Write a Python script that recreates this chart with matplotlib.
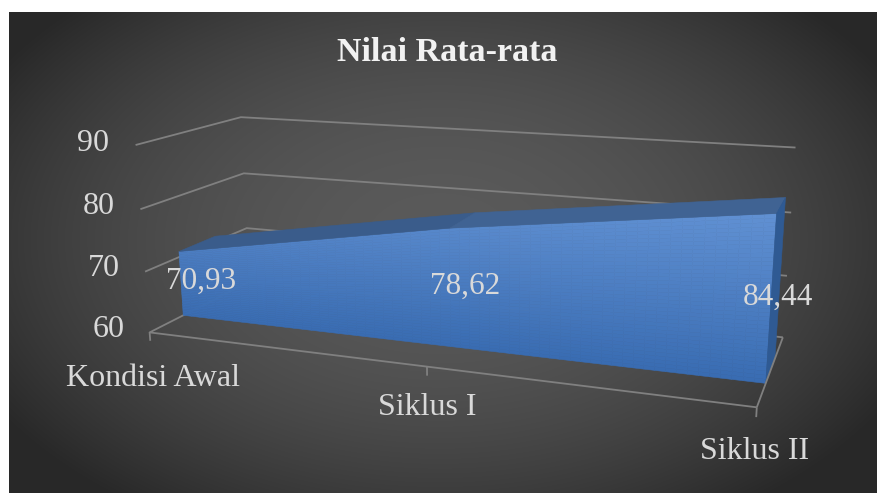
import numpy as np
import matplotlib
matplotlib.use("Agg")
import matplotlib.pyplot as plt
from mpl_toolkits.mplot3d.art3d import Poly3DCollection

plt.rcParams['font.family'] = ['Liberation Serif', 'DejaVu Serif']

############# 00100 DATA ################
categories = ["Kondisi Awal", "Siklus I", "Siklus II"]
values = [70.93, 78.62, 84.44]
value_labels = ["70,93", "78,62", "84,44"]
y_ticks = [60, 70, 80, 90]
title = "Nilai Rata-rata"

############# 00200 VIEW ################
# camera fitted to the excel 3d area chart (persp projection)
W, H = 878, 493
S = 900.0                      # side of the square 3d axes in px
cx, cy = 470.13, 218.57        # centre of it, px from bottom-left
elev, azim, roll = 15.032, -70.361, 0.033
focal = np.exp(-1.38309)
xlim = (0.04486, 1.90491)
ylim = (-0.53833, 2.30157)
zlim = (24.61196, 112.85190)
d_front, d_back = 0.30724, 0.66306   # depth of the area slab

txt_col = '#d9d9d9'
grid_col = '#808080'


def face_color(v):
    # vertical gradient on the front face
    t = np.clip((v - 60) / 26.0, 0, 1)
    lo = np.array([57, 108, 178]) / 255
    hi = np.array([99, 147, 213]) / 255
    return tuple(lo + (hi - lo) * t)


fig = plt.figure(figsize=(W / 100, H / 100), dpi=100, facecolor='white')

# radial gradient background
bg = fig.add_axes([0, 0, 1, 1])
xx, yy = np.meshgrid(np.arange(9, W) + 0.5, np.arange(12, H) + 0.5)
r2 = ((xx - 440) / 520) ** 2 + ((yy - 240) / 330) ** 2
shade = (40 + 50 * np.clip(1 - r2, 0, 1)) / 255
bg.imshow(np.dstack([shade] * 3), extent=(9, W, H, 12), interpolation='bilinear', aspect='auto')
bg.set_xlim(0, W)
bg.set_ylim(H, 0)
bg.axis('off')

ax = fig.add_axes([(cx - S / 2) / W, (cy - S / 2) / H, S / W, S / H],
                  projection='3d', computed_zorder=False)
ax.set_box_aspect((1, 1, 1))
ax.set_facecolor('none')
ax.patch.set_visible(False)

xs = np.arange(len(categories))
x0, x1 = xs[0], xs[-1]
base = y_ticks[0]

############# 00300 WALLS ################
grid_kw = dict(color=grid_col, lw=1.3, solid_capstyle='butt')
for v in y_ticks[1:]:
    ax.plot([x0, x0, x1], [0, 1, 1], [v, v, v], zorder=1, **grid_kw)
# floor outline
ax.plot([x1, x0, x0, x1], [0, 0, 1, 1], [base] * 4, zorder=1, **grid_kw)
ax.plot([x1, x1], [0, 1], [base, base], zorder=3, **grid_kw)
for c in xs:
    ax.plot([c, c], [0, 0], [base, base - 1.4], zorder=3, **grid_kw)

############# 00400 AREA ################
ncol, nrow = 60, 40
xg = np.linspace(x0, x1, ncol + 1)
top = np.interp(xg, xs, values)
fr = np.linspace(0, 1, nrow + 1)
polys, cols = [], []
for j in range(ncol):
    for k in range(nrow):
        za = base + fr[k] * (top[j] - base)
        zb = base + fr[k + 1] * (top[j] - base)
        zc = base + fr[k + 1] * (top[j + 1] - base)
        zd = base + fr[k] * (top[j + 1] - base)
        polys.append([(xg[j], d_front, za), (xg[j], d_front, zb),
                      (xg[j + 1], d_front, zc), (xg[j + 1], d_front, zd)])
        cols.append(face_color((za + zb + zc + zd) / 4))
front = Poly3DCollection(polys, facecolors=cols, edgecolors=cols, linewidths=0.4, zorder=2)
ax.add_collection3d(front)

tops = []
for i in range(len(xs) - 1):
    tops.append([(xs[i], d_front, values[i]), (xs[i + 1], d_front, values[i + 1]),
                 (xs[i + 1], d_back, values[i + 1]), (xs[i], d_back, values[i])])
side = [(x1, d_front, base), (x1, d_front, values[-1]),
        (x1, d_back, values[-1]), (x1, d_back, base)]
top_cols = ['#3a5c8b', '#406393'][:len(tops)]
lids = Poly3DCollection(tops + [side], facecolors=top_cols + ['#2f5a93'],
                        edgecolors=top_cols + ['#2f5a93'], linewidths=0.4, zorder=2)
ax.add_collection3d(lids)

############# 00500 TEXT ################
for v in y_ticks:
    ax.text(x0 - 0.1, 0, v, str(v), ha='right', va='center', fontsize=23,
            color=txt_col, zorder=4)

cat_drop = [7.8, 6.4, 6.3]
for c, name, dz in zip(xs, categories, cat_drop):
    ax.text(c, 0, base - dz, name, ha='center', va='center', fontsize=23,
            color=txt_col, zorder=4)

lab_dx = [0.08, 0.05, 0.02]
for c, v, lab, dx in zip(xs, values, value_labels, lab_dx):
    ax.text(c + dx, d_front, (base + v) / 2 - 0.6, lab, ha='center', va='baseline',
            fontsize=22.5, color=txt_col, zorder=4)

fig.text(447.5 / W, 1 - 52.5 / H, title, ha='center', va='center', fontsize=24.5,
         fontweight='bold', color='#f2f2f2')

ax.set_xlim(*xlim)
ax.set_ylim(*ylim)
ax.set_zlim(*zlim)
# no built-in 3d axis decorations, the walls above replace them
ax.set_xticks([])
ax.set_yticks([])
ax.set_zticks([])
ax.set_axis_off()
ax.view_init(elev, azim, roll)
ax.set_proj_type('persp', focal_length=focal)

fig.savefig("out.png", dpi=100)
